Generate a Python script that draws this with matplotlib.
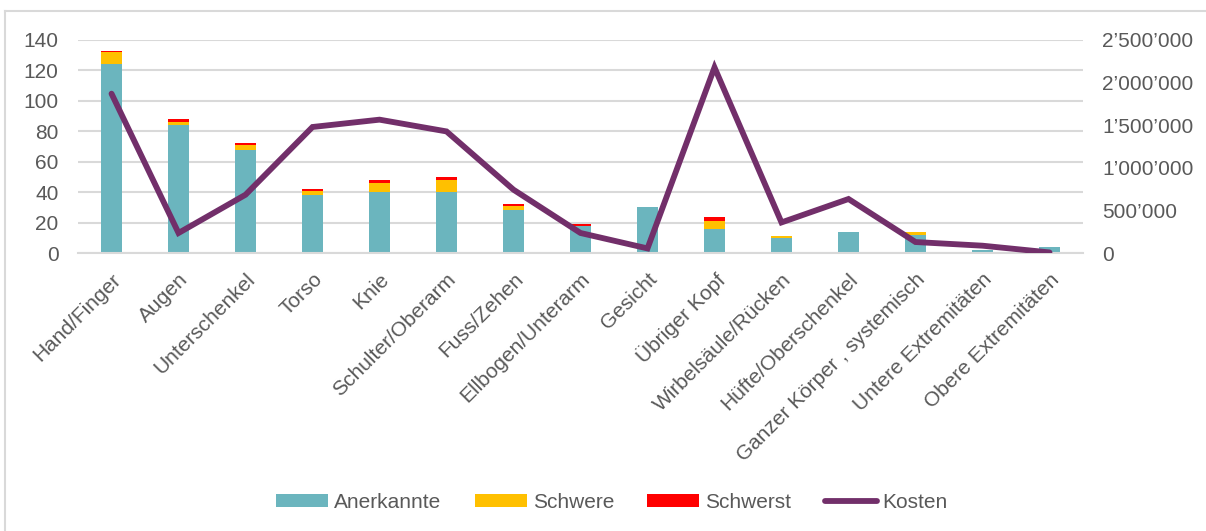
import numpy as np
import matplotlib
matplotlib.use("Agg")
import matplotlib.pyplot as plt
from matplotlib.lines import Line2D
from matplotlib.ticker import FuncFormatter

# Körperteile und Fallzahlen (gestapelt) plus Kosten auf der rechten Achse
categories = ["Hand/Finger", "Augen", "Unterschenkel", "Torso", "Knie",
              "Schulter/Oberarm", "Fuss/Zehen", "Ellbogen/Unterarm", "Gesicht",
              "Übriger Kopf", "Wirbelsäule/Rücken", "Hüfte/Oberschenkel",
              "Ganzer Körper , systemisch", "Untere Extremitäten",
              "Obere Extremitäten"]
anerkannte = [124, 84, 68, 38, 40, 40, 28, 18, 30, 16, 10, 14, 12, 2, 4]
schwere = [8, 2, 3, 3, 6, 8, 3, 0, 0, 5, 1, 0, 2, 0, 0]
schwerst = [1, 2, 1, 1, 2, 2, 1, 1, 0, 3, 0, 0, 0, 0, 0]
kosten = [1870000, 235000, 684000, 1479000, 1565000, 1427000, 743000,
          235000, 54000, 2178000, 359000, 634000, 129000, 86000, 7000]

TEAL = "#6BB5BE"
GELB = "#FFC000"
ROT = "#FF0000"
LILA = "#722F6A"
GRAU_TXT = "#595959"
GRAU_LINIE = "#D9D9D9"

plt.rcParams["font.family"] = ["Liberation Sans", "DejaVu Sans"]
plt.rcParams["font.size"] = 15

fig = plt.figure(figsize=(12.06, 5.31), dpi=100)
ax = fig.add_axes([0.0647, 0.5235, 0.8333, 0.4012])
ax2 = ax.twinx()

x = np.arange(len(categories))
w = 0.31
a = np.array(anerkannte)
s = np.array(schwere)
r = np.array(schwerst)
ax.bar(x, a, w, color=TEAL, label="Anerkannte", zorder=2)
ax.bar(x, s, w, bottom=a, color=GELB, label="Schwere", zorder=2)
ax.bar(x, r, w, bottom=a + s, color=ROT, label="Schwerst", zorder=2)
ax2.plot(x, kosten, color=LILA, lw=4.2, solid_joinstyle="miter",
         solid_capstyle="round", label="Kosten")

ax.set_xlim(-0.5, len(categories) - 0.5)
ax.set_ylim(0, 140)
ax.set_yticks(range(0, 141, 20))
ax2.set_ylim(0, 2500000)
ax2.set_yticks(range(0, 2500001, 500000))
ax2.yaxis.set_major_formatter(
    FuncFormatter(lambda v, _: f"{int(v):,}".replace(",", "\u2019")))

ax.yaxis.grid(True, color=GRAU_LINIE, lw=1.5, zorder=0)
ax.set_axisbelow(True)
for a_ in (ax, ax2):
    for sp in a_.spines.values():
        sp.set_visible(False)
ax.spines["bottom"].set_visible(True)
ax.spines["bottom"].set_color(GRAU_LINIE)
ax.spines["bottom"].set_linewidth(1.5)

ax.tick_params(axis="y", length=0, pad=14, colors=GRAU_TXT)
ax2.tick_params(axis="y", length=0, pad=14, colors=GRAU_TXT)
ax.tick_params(axis="x", length=0, pad=12, colors=GRAU_TXT)
ax.set_xticks(x)
ax.set_xticklabels(categories, rotation=45, ha="right",
                   rotation_mode="anchor")

h1, l1 = ax.get_legend_handles_labels()
h2, l2 = ax2.get_legend_handles_labels()
fig.legend(h1 + h2, l1 + l2, loc="center", bbox_to_anchor=(0.5075, 0.0537),
           ncol=4, frameon=False, handlelength=2.5, handleheight=0.53,
           handletextpad=0.29, columnspacing=1.59, labelcolor=GRAU_TXT,
           fontsize=15)

# Rahmen links und oben
fig.add_artist(Line2D([5 / 1206, 5 / 1206], [0, 1 - 11 / 531],
                      color=GRAU_LINIE, lw=1.5))
fig.add_artist(Line2D([5 / 1206, 1], [1 - 11 / 531, 1 - 11 / 531],
                      color=GRAU_LINIE, lw=1.5))

fig.savefig("out.png", dpi=100)
